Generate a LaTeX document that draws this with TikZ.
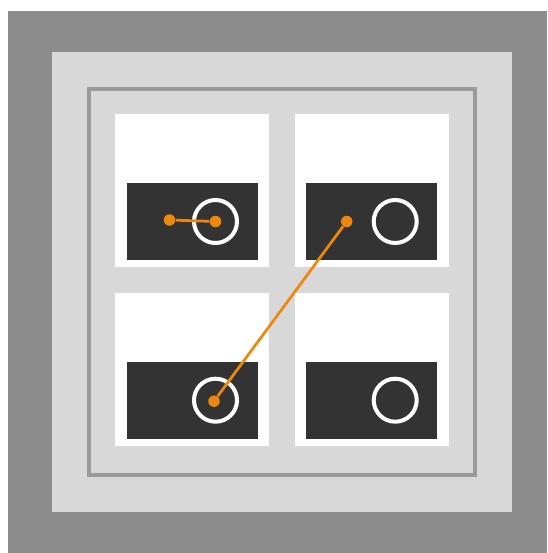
\documentclass[tikz,border=0pt]{standalone}
\usepackage{xcolor}
\usetikzlibrary{positioning}
\definecolor{wall}{HTML}{8C8C8C}
\definecolor{board}{HTML}{D8D8D8}
\definecolor{rim}{HTML}{9A9A9A}
\definecolor{screen}{HTML}{333333}
\definecolor{link}{HTML}{EE870E}

\begin{document}
\begin{tikzpicture}[node distance=0.5cm,
  panel/.style={rectangle, fill=white, minimum width=3.08cm, minimum height=3.06cm, inner sep=0pt},
  slab/.style={rectangle, fill=screen, minimum width=2.62cm, minimum height=1.54cm, inner sep=0pt},
  ring/.style={circle, draw=white, line width=0.08cm, minimum size=0.86cm, inner sep=0pt},
  dot/.style={circle, fill=link, minimum size=0.23cm, inner sep=0pt},
  wire/.style={link, line width=0.055cm}]
  \useasboundingbox (0,0) rectangle (10.94,-11.06);
  % frames
  \fill[wall] (0.16,-0.22) rectangle (10.94,-11.06);
  \fill[board] (1.04,-1.04) rectangle (10.24,-10.24);
  \draw[rim, line width=0.08cm] (1.78,-1.78) rectangle (9.50,-9.50);
  % panels
  \node[panel] (p1) at (3.84,-3.81) {};
  \node[panel, right=of p1] (p2) {};
  \node[panel, below=of p1] (p3) {};
  \node[panel, right=of p3] (p4) {};
  \foreach \p in {1,...,4} {
    \node[slab, above=0.14cm of p\p.south] (s\p) {};
    \node[ring, xshift=0.47cm] (r\p) at (s\p.center) {};
  }
  % links
  \node[dot, xshift=-0.45cm, yshift=0.03cm] (d1) at (s1.center) {};
  \node[dot] (d2) at (r1.center) {};
  \node[dot, xshift=-0.5cm] (d3) at (s2.center) {};
  \node[dot, xshift=-0.03cm, yshift=-0.02cm] (d4) at (r3.center) {};
  \draw[wire] (d1) -- (d2);
  \draw[wire] (d3) -- (d4);
\end{tikzpicture}
\end{document}
